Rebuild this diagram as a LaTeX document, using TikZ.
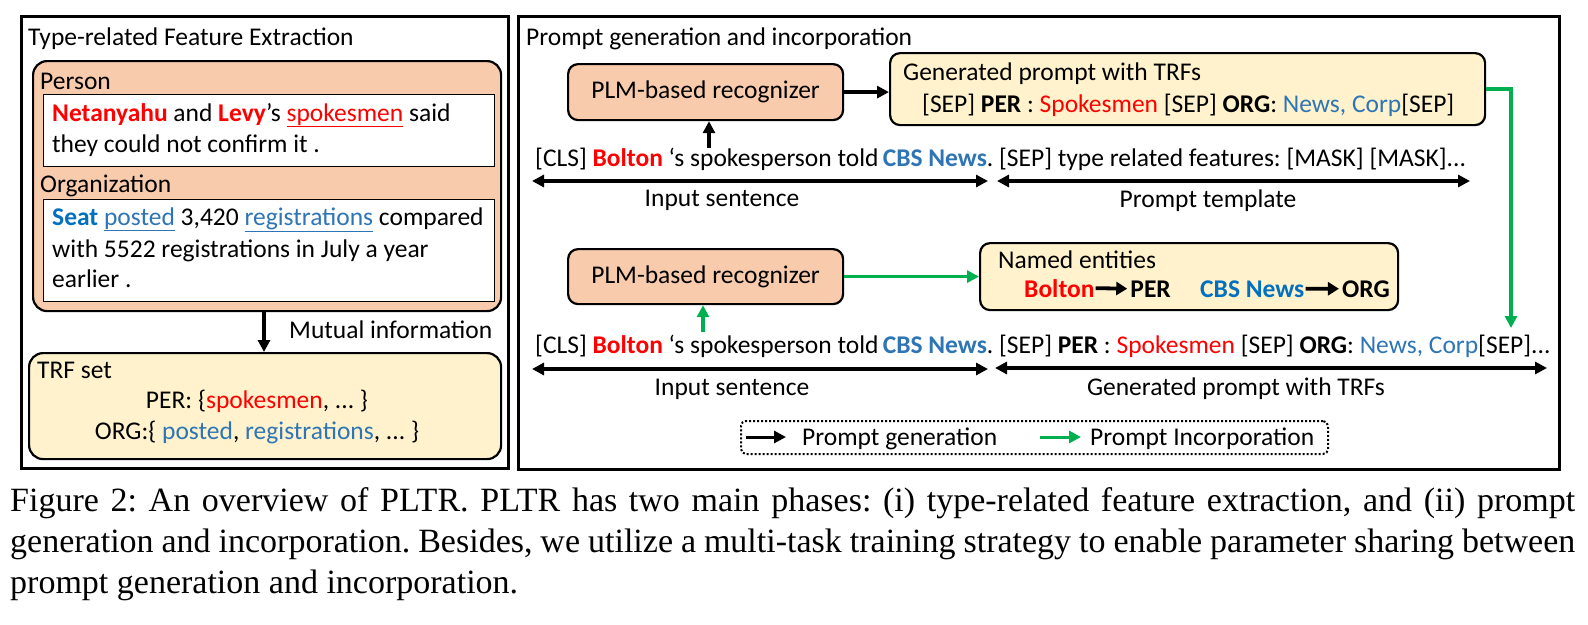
\documentclass[tikz,border=0pt]{standalone}
\usepackage{fontspec}
\setmainfont{Carlito}
\newfontfamily\capfont{Liberation Serif}
\usetikzlibrary{arrows.meta}
\definecolor{ored}{HTML}{FF0000}
\definecolor{oblue}{HTML}{2E75B6}
\definecolor{dblue}{HTML}{0070C0}
\definecolor{ofill}{HTML}{F8CBAD}
\definecolor{yfill}{HTML}{FFF2CC}
\definecolor{ogreen}{HTML}{00B050}
\newcommand{\myred}[1]{\textcolor{ored}{#1}}
\newcommand{\myblue}[1]{\textcolor{oblue}{#1}}
\frenchspacing
\begin{document}
\begin{tikzpicture}[x=1pt,y=-1pt,
  txt/.style={inner sep=0pt, font=\fontsize{25.5}{30}\selectfont},
  captxt/.style={inner sep=0pt, font=\capfont\fontsize{34}{40}\selectfont, anchor=base west},
  panel/.style={draw, line width=3.2pt, inner sep=0pt, anchor=north west},
  box/.style={draw, line width=2.2pt, rounded corners=10pt, inner sep=0pt, anchor=north west},
  wbox/.style={draw, line width=1.4pt, fill=white, inner sep=0pt, anchor=north west},
  arr/.style={line width=3.5pt, -{Triangle[length=12pt,width=12pt]}},
  darr/.style={line width=3.5pt, {Triangle[length=12pt,width=12pt]}-{Triangle[length=12pt,width=12pt]}},
  garr/.style={arr, draw=ogreen, fill=ogreen},
  legbox/.style={draw, dotted, line width=2pt, rounded corners=5pt, inner sep=0pt, anchor=north west}
]
\useasboundingbox (0,0) rectangle (1588,624);

% ---------------- left panel ----------------
\node[panel, minimum width=487pt, minimum height=452pt] (lp) at (20,15) {};
\node[txt, anchor=base west] (lt) at (28,45) {Type-related Feature Extraction};
\node[box, fill=ofill, rounded corners=14pt, minimum width=468pt, minimum height=250pt] (ob) at (32,60) {};
\node[txt, anchor=base west] (per) at (40,89) {Person};
\node[wbox, minimum width=451pt, minimum height=72pt] (w1) at (43,94) {};
\node[txt, anchor=base west] (s1a) at (52,121) {\myred{\textbf{Netanyahu}} and \myred{\textbf{Levy}}'s \myred{\underline{spokesmen}} said};
\node[txt, anchor=base west] (s1b) at (52,152) {they could not confirm it .};
\node[txt, anchor=base west] (org) at (40,192) {Organization};
\node[wbox, minimum width=451pt, minimum height=102pt] (w2) at (43,199) {};
\node[txt, anchor=base west] (s2a) at (52,225) {\textcolor{dblue}{\textbf{Seat}} \myblue{\underline{posted}} 3,420 \myblue{\underline{registrations}} compared};
\node[txt, anchor=base west] (s2b) at (52,257) {with 5522 registrations in July a year};
\node[txt, anchor=base west] (s2c) at (52,287) {earlier .};
\node[box, fill=yfill, rounded corners=14pt, minimum width=472pt, minimum height=106pt] (tb) at (28,352) {};
\node[txt, anchor=base west] (trf) at (37,378) {TRF set};
\node[txt, anchor=base] (trf1) at (257,408) {PER: \{\myred{spokesmen}, ... \}};
\node[txt, anchor=base] (trf2) at (257,439) {ORG:\{ \myblue{posted}, \myblue{registrations}, ... \}};
\coordinate (mx) at (264,0);
\draw[arr] (mx |- ob.south) -- (mx |- tb.north);
\node[txt, anchor=base west] (mi) at (289,338) {Mutual information};

% ---------------- right panel ----------------
\node[panel, minimum width=1041pt, minimum height=453pt] (rp) at (517,15) {};
\node[txt, anchor=base west] (rt) at (526,45) {Prompt generation and incorporation};

% top row
\node[box, fill=ofill, minimum width=275pt, minimum height=56pt, font=\fontsize{25.5}{30}\selectfont] (plm1) at (567,63) {PLM-based recognizer};
\node[box, fill=yfill, minimum width=595pt, minimum height=72pt] (gen) at (889,52) {};
\node[txt, anchor=base west] (gent) at (903,80) {Generated prompt with TRFs};
\node[txt, anchor=base west] (genl) at (922,112) {[SEP] \textbf{PER} : \myred{Spokesmen} [SEP] \textbf{ORG}: \myblue{News, Corp}[SEP]};
\draw[arr] (plm1.east) -- (plm1.east -| gen.west);
\node[txt, anchor=base west] (in1) at (535,166) {[CLS] \myred{\textbf{Bolton}} ‘s spokesperson told\,\myblue{\textbf{CBS News}}. [SEP] type related features: [MASK] [MASK]...};
\coordinate (up1) at (709,148);
\draw[arr] (up1) -- (up1 |- plm1.south);
\coordinate (a1l) at (532,181);
\coordinate (a1r) at (988,181);
\coordinate (a2l) at (997,181);
\coordinate (a2r) at (1470,181);
\draw[darr] (a1l) -- (a1r);
\draw[darr] (a2l) -- (a2r);
\node[txt, anchor=base] (is1) at (722,206) {Input sentence};
\node[txt, anchor=base] (pt) at (1208,207) {Prompt template};

% bottom row
\node[box, fill=ofill, minimum width=275pt, minimum height=55pt, font=\fontsize{25.5}{30}\selectfont] (plm2) at (567,248) {PLM-based recognizer};
\node[box, fill=yfill, minimum width=418pt, minimum height=67pt] (ne) at (979,242) {};
\node[txt, anchor=base west] (net) at (998,268) {Named entities};
\node[txt, anchor=base west, font=\fontsize{25.5}{30}\selectfont\bfseries, text=ored] (nb) at (1024,297) {Bolton};
\node[txt, anchor=base east, font=\fontsize{25.5}{30}\selectfont\bfseries] (np) at (1171,297) {PER};
\node[txt, anchor=base west, font=\fontsize{25.5}{30}\selectfont\bfseries, text=dblue] (nc) at (1200,297) {CBS News};
\node[txt, anchor=base east, font=\fontsize{25.5}{30}\selectfont\bfseries] (no) at (1390,297) {ORG};
\draw[line width=3.8pt, -{Triangle[length=11pt,width=13pt]}, shorten <=1pt, shorten >=3pt] (nb.east) -- (np.west);
\draw[line width=3.8pt, -{Triangle[length=11pt,width=13pt]}, shorten <=1pt, shorten >=3pt] (nc.east) -- (no.west);
\draw[garr] (plm2.east) -- (plm2.east -| ne.west);

\coordinate (gd) at (1511,328);
\draw[line width=3.5pt, draw=ogreen, -{Triangle[length=12pt,width=12pt]}] (gen.east) -| (gd);

\node[txt, anchor=base west] (in2) at (535,353) {[CLS] \myred{\textbf{Bolton}} ‘s spokesperson told\,\myblue{\textbf{CBS News}}. [SEP] \textbf{PER} : \myred{Spokesmen} [SEP] \textbf{ORG}: \myblue{News, Corp}[SEP]...};
\coordinate (up2) at (703,332);
\draw[garr] (up2) -- (up2 |- plm2.south);
\coordinate (b1l) at (532,369);
\coordinate (b1r) at (988,369);
\coordinate (b2l) at (995,368);
\coordinate (b2r) at (1547,368);
\draw[darr] (b1l) -- (b1r);
\draw[darr] (b2l) -- (b2r);
\node[txt, anchor=base] (is2) at (732,395) {Input sentence};
\node[txt, anchor=base] (gp) at (1236,395) {Generated prompt with TRFs};

% legend
\node[legbox, minimum width=587pt, minimum height=33pt] (lg) at (740,420) {};
\coordinate (l1a) at (746,437);
\coordinate (l1b) at (786,437);
\draw[arr, line width=3pt] (l1a) -- (l1b);
\node[txt, anchor=base west] (lgt1) at (802,445) {Prompt generation};
\coordinate (l2a) at (1040,437);
\coordinate (l2b) at (1081,437);
\draw[garr, line width=3pt] (l2a) -- (l2b);
\node[txt, anchor=base west] (lgt2) at (1090,445) {Prompt Incorporation};

% ---------------- caption ----------------
\node[captxt] (c1) at (10,511) {\makebox[1565pt][s]{Figure 2: An overview of PLTR. PLTR has two main phases: (i) type-related feature extraction, and (ii) prompt}};
\node[captxt] (c2) at (10,552) {\makebox[1565pt][s]{generation and incorporation. Besides, we utilize a multi-task training strategy to enable parameter sharing between}};
\node[captxt] (c3) at (10,593) {prompt generation and incorporation.};
\end{tikzpicture}
\end{document}
